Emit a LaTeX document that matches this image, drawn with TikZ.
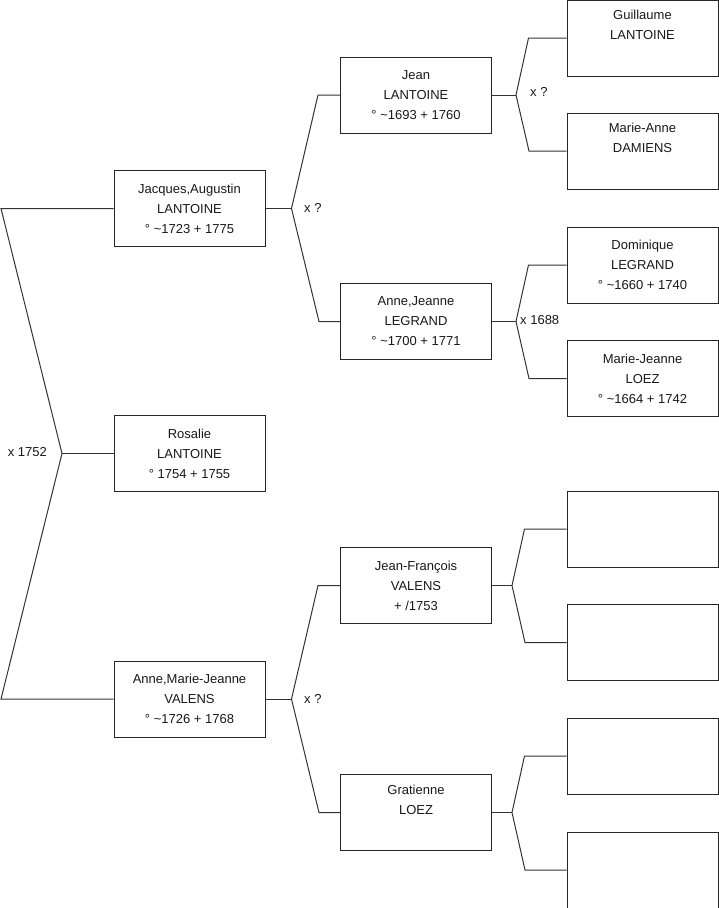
\documentclass[tikz,border=0pt]{standalone}
\usepackage{fontspec}
\setmainfont{Liberation Sans}
\newcommand\tld{\textasciitilde}
\begin{document}
\begin{tikzpicture}[x=1pt,y=-1pt,
  person/.style={draw=black!85,line width=1pt,fill=white,minimum width=151pt,minimum height=76pt,
    inner sep=0pt,align=center,font=\fontsize{13}{20}\selectfont,text=black!90},
  link/.style={draw=black!80,line width=1pt},
  union/.style={font=\fontsize{13}{16}\selectfont,text=black!90,inner sep=0pt}]
\useasboundingbox (0,0) rectangle (719,908);
% generation 1
\node[person] (jac) at (189.5,208.5) {Jacques,Augustin\\LANTOINE\\° \tld1723 + 1775};
\node[person] (ros) at (189.5,453.5) {Rosalie\\LANTOINE\\° 1754 + 1755};
\node[person] (anm) at (189.5,699) {Anne,Marie-Jeanne\\VALENS\\° \tld1726 + 1768};
% generation 2
\node[person] (jean) at (416,95) {Jean\\LANTOINE\\° \tld1693 + 1760};
\node[person] (anj) at (416,321.5) {Anne,Jeanne\\LEGRAND\\° \tld1700 + 1771};
\node[person] (jfr) at (416,585.5) {Jean-François\\VALENS\\+ /1753};
\node[person] (gra) at (416,812.5) {Gratienne\\LOEZ\\\strut};
% generation 3
\node[person] (gui) at (642.5,38) {Guillaume\\LANTOINE\\\strut};
\node[person] (mar) at (642.5,151) {Marie-Anne\\DAMIENS\\\strut};
\node[person] (dom) at (642.5,265) {Dominique\\LEGRAND\\° \tld1660 + 1740};
\node[person] (mjl) at (642.5,378.5) {Marie-Jeanne\\LOEZ\\° \tld1664 + 1742};
\node[person] (e1) at (642.5,529) {};
\node[person] (e2) at (642.5,642.5) {};
\node[person] (e3) at (642.5,756) {};
\node[person] (e4) at (642.5,870) {};
% forks
\coordinate (L) at (1,0);
\coordinate (f0) at (62,453.5);
\draw[link] (ros.west) -- (f0);
\draw[link] (jac.west) -- (jac.west -| L) -- (f0) -- (anm.west -| L) -- (anm.west);
\node[union,anchor=east] (u0) at (47,452) {x 1752};

\draw[link] (jac.east) -- ++(26,0) coordinate (f1);
\draw[link] (jean.west) -- ++(-22,0) -- (f1) -- (anj.west -| {(319,0)}) -- (anj.west);
\node[union,anchor=west] (u1) at (304,208) {x ?};

\draw[link] (anm.east) -- ++(26,0) coordinate (f2);
\draw[link] (jfr.west) -- ++(-22,0) -- (f2) -- (gra.west -| {(319,0)}) -- (gra.west);
\node[union,anchor=west] (u2) at (304,699) {x ?};

\draw[link] (jean.east) -- ++(24,0) coordinate (f3);
\draw[link] (gui.west) -- ++(-38,0) -- (f3) -- (mar.west -| {(529,0)}) -- (mar.west);
\node[union,anchor=west] (u3) at (530,92) {x ?};

\draw[link] (anj.east) -- ++(24,0) coordinate (f4);
\draw[link] (dom.west) -- ++(-38,0) -- (f4) -- (mjl.west -| {(529,0)}) -- (mjl.west);
\node[union,anchor=west] (u4) at (520,320) {x 1688};

\draw[link] (jfr.east) -- ++(20,0) coordinate (f5);
\draw[link] (e1.west) -- ++(-42,0) -- (f5) -- (e2.west -| {(525,0)}) -- (e2.west);

\draw[link] (gra.east) -- ++(20,0) coordinate (f6);
\draw[link] (e3.west) -- ++(-42,0) -- (f6) -- (e4.west -| {(525,0)}) -- (e4.west);
\end{tikzpicture}
\end{document}
